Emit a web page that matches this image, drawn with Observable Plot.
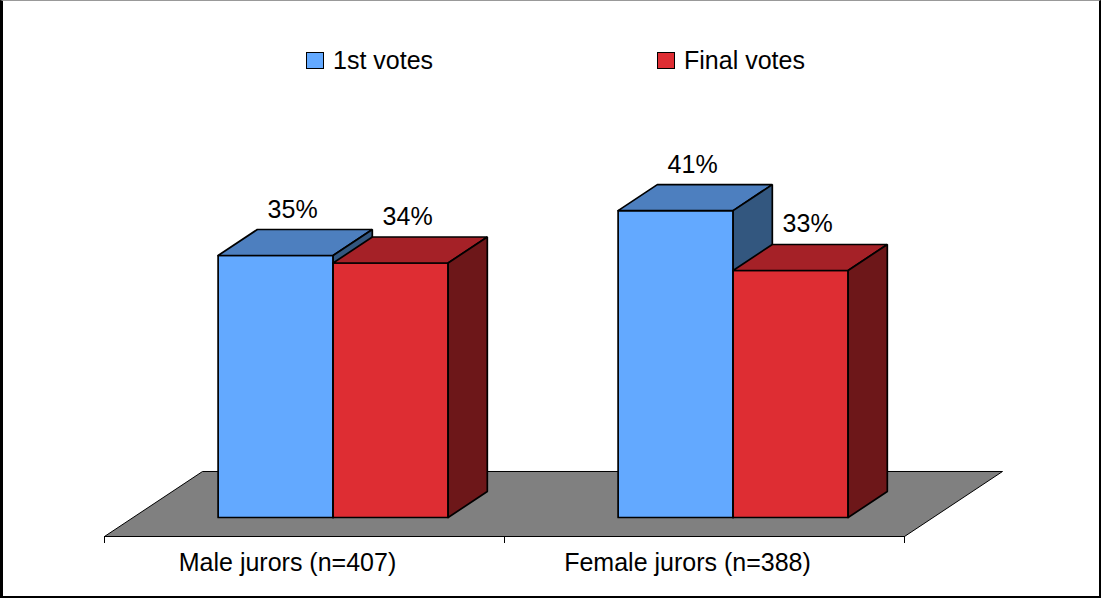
<!DOCTYPE html>
<html>
<head>
<meta charset="utf-8">
<script src="https://cdn.jsdelivr.net/npm/d3@7"></script>
<script src="https://cdn.jsdelivr.net/npm/@observablehq/plot@0.6"></script>
<style>
  body { margin: 0; background: #fff; font-family: "Liberation Sans", Arial, sans-serif; }
  #frame { position: relative; width: 1101px; height: 598px; overflow: hidden; background: #fff; }
  #border { position: absolute; left: 0; top: 0; width: 1101px; height: 598px; box-sizing: border-box;
            border-left: 3px solid #000; border-right: 2px solid #000; border-bottom: 2px solid #000;
            border-top: 1px solid #999; pointer-events: none; z-index: 2; }
  #legend { position: absolute; left: 0; top: 0; width: 1101px; height: 88px; }
  .item { position: absolute; top: 46px; height: 28px; display: flex; align-items: center;
          font-size: 25px; line-height: 28px; color: #000; white-space: nowrap; }
  .sw { width: 18px; height: 17px; border: 1px solid #000; box-sizing: border-box; margin-right: 9px; }
  #chart { position: absolute; left: 0; top: 88px; }
</style>
</head>
<body>
<div id="frame">
  <div id="legend"></div>
  <div id="chart"></div>
  <div id="border"></div>
</div>
<script>
// ---- data ----
const categories = ["Male jurors (n=407)", "Female jurors (n=388)"];
const seriesNames = ["1st votes", "Final votes"];
const firstVotes = [35, 41];
const finalVotes = [34, 33];
const seriesValues = [firstVotes, finalVotes];

// ---- style ----
const palettes = [
  {front: "#63a9ff", top: "#4d7fbf", side: "#33577f"},
  {front: "#de2d33", top: "#a52127", side: "#6d1719"}
];
const floorColor = "#808080";

// oblique 3D projection in data units (floor depth vector)
const depthX = 0.245, depthY = 8.683;
const zFront = 0.292, zBack = 0.692;
const barW = 0.2875;
const proj = (x, v, z) => ({x: x + z * depthX, y: v + z * depthY});

// floor polygon
const floor = [[0, 0, 0], [categories.length, 0, 0], [categories.length, 0, 1], [0, 0, 1], [0, 0, 0]]
  .map(([x, v, z]) => ({id: "floor", ...proj(x, v, z)}));

// bar faces
const faces = [];
const labels = [];
categories.forEach((c, i) => {
  seriesValues.forEach((vals, s) => {
    const v = vals[i];
    const x0 = i + 0.5 - barW + s * barW, x1 = x0 + barW;
    const pal = palettes[s];
    const add = (name, pts, fill) =>
      pts.concat([pts[0]]).forEach(([x, y, z]) => faces.push({id: `${i}-${s}-${name}`, fill, ...proj(x, y, z)}));
    add("front", [[x0, 0, zFront], [x1, 0, zFront], [x1, v, zFront], [x0, v, zFront]], pal.front);
    add("top", [[x0, v, zFront], [x1, v, zFront], [x1, v, zBack], [x0, v, zBack]], pal.top);
    add("side", [[x1, 0, zFront], [x1, 0, zBack], [x1, v, zBack], [x1, v, zFront]], pal.side);
    labels.push({text: `${v}%`, ...proj((x0 + x1) / 2, v, zFront)});
  });
});

const catLabels = categories.map((c, i) => ({x: i + 0.5, y: 0, text: c}));

const plot = Plot.plot({
  width: 1101,
  height: 510,
  marginLeft: 104,
  marginRight: 197,
  marginTop: 73.7,
  marginBottom: 62,
  x: {domain: [0, categories.length], axis: null, label: null},
  y: {domain: [0, 50], axis: null, label: null},
  color: {type: "identity"},
  style: {fontFamily: '"Liberation Sans", Arial, sans-serif', background: "transparent", color: "#000"},
  marks: [
    Plot.line(floor, {x: "x", y: "y", z: "id", fill: floorColor, stroke: "#000", strokeWidth: 1}),
    Plot.axisX({ticks: d3.range(categories.length + 1), tickSize: 7, tickFormat: () => "", label: null, stroke: "#000", strokeWidth: 1}),
    Plot.line(faces, {x: "x", y: "y", z: "id", fill: "fill", stroke: "#000", strokeWidth: 1.7, strokeLinejoin: "miter"}),
    Plot.text(labels, {x: "x", y: "y", text: "text", dx: 17, dy: -46, fontSize: 25, fill: "#000"}),
    Plot.text(catLabels, {x: "x", y: "y", text: "text", dx: -17, dy: 26, fontSize: 25, fill: "#000"})
  ]
});
document.getElementById("chart").appendChild(plot);

// legend
const legend = document.getElementById("legend");
const legendLeft = [306, 657];
seriesNames.forEach((name, s) => {
  const item = document.createElement("div");
  item.className = "item";
  item.style.left = legendLeft[s] + "px";
  const sw = document.createElement("span");
  sw.className = "sw";
  sw.style.background = palettes[s].front;
  const t = document.createElement("span");
  t.textContent = name;
  item.appendChild(sw);
  item.appendChild(t);
  legend.appendChild(item);
});
</script>
</body>
</html>
